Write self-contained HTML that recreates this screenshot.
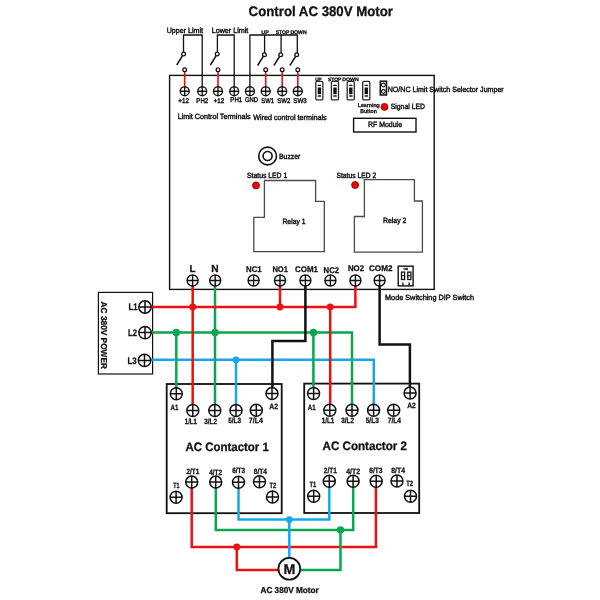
<!DOCTYPE html>
<html><head><meta charset="utf-8"><title>Control AC 380V Motor</title>
<style>
html,body{margin:0;padding:0;background:#fff;}
svg{display:block;font-family:"Liberation Sans",Arial,sans-serif;fill:#111;text-rendering:geometricPrecision;}
</style></head><body>
<svg width="600" height="600" viewBox="0 0 600 600" style="will-change:transform">
<text x="248.6" y="15.9" font-size="13.86" font-weight="bold" stroke="#111" stroke-width="0.28" textLength="144.4" lengthAdjust="spacingAndGlyphs">Control AC 380V Motor</text>
<rect x="169.6" y="75.4" width="264.6" height="214" fill="none" stroke="#111" stroke-width="1.4"/>
<path d="M183.5 52.5V35H202.2V87" fill="none" stroke="#111" stroke-width="1.3"/>
<path d="M234.2 87V35H217.4V52" fill="none" stroke="#111" stroke-width="1.3"/>
<path d="M249.9 87V35H297.3V53 M264.6 35V53 M281.1 35V53" fill="none" stroke="#111" stroke-width="1.3"/>
<path d="M182.70000000000002 55.4L176.8 65.0" fill="none" stroke="#111" stroke-width="1.5"/>
<circle cx="183.60000000000002" cy="54.0" r="1.85" fill="#fff" stroke="#111" stroke-width="1.3"/>
<path d="M184.7 71.5V87" stroke="#ee1010" stroke-width="1.6" fill="none"/>
<circle cx="184.7" cy="69.7" r="1.85" fill="#fff" stroke="#111" stroke-width="1.3"/>
<path d="M216.3 55.4L210.4 65.0" fill="none" stroke="#111" stroke-width="1.5"/>
<circle cx="217.20000000000002" cy="54.0" r="1.85" fill="#fff" stroke="#111" stroke-width="1.3"/>
<path d="M218.0 71.5V87" stroke="#ee1010" stroke-width="1.6" fill="none"/>
<circle cx="218.0" cy="69.7" r="1.85" fill="#fff" stroke="#111" stroke-width="1.3"/>
<path d="M263.5 56.199999999999996L257.6 65.48" fill="none" stroke="#111" stroke-width="1.5"/>
<circle cx="264.40000000000003" cy="54.8" r="1.85" fill="#fff" stroke="#111" stroke-width="1.3"/>
<path d="M265.7 71.5V87" stroke="#ee1010" stroke-width="1.6" fill="none"/>
<circle cx="265.7" cy="69.7" r="1.85" fill="#fff" stroke="#111" stroke-width="1.3"/>
<path d="M279.79999999999995 56.199999999999996L273.9 65.48" fill="none" stroke="#111" stroke-width="1.5"/>
<circle cx="280.7" cy="54.8" r="1.85" fill="#fff" stroke="#111" stroke-width="1.3"/>
<path d="M282.2 71.5V87" stroke="#ee1010" stroke-width="1.6" fill="none"/>
<circle cx="282.2" cy="69.7" r="1.85" fill="#fff" stroke="#111" stroke-width="1.3"/>
<path d="M295.79999999999995 56.199999999999996L289.9 65.48" fill="none" stroke="#111" stroke-width="1.5"/>
<circle cx="296.7" cy="54.8" r="1.85" fill="#fff" stroke="#111" stroke-width="1.3"/>
<path d="M297.8 71.5V87" stroke="#ee1010" stroke-width="1.6" fill="none"/>
<circle cx="297.8" cy="69.7" r="1.85" fill="#fff" stroke="#111" stroke-width="1.3"/>
<g stroke="#111" stroke-width="1.35" fill="#fff"><circle cx="184.7" cy="91.2" r="4.5"/><path d="M180.2 91.2H189.2M184.7 86.7V95.7" fill="none"/></g>
<g stroke="#111" stroke-width="1.35" fill="#fff"><circle cx="202.2" cy="91.2" r="4.5"/><path d="M197.7 91.2H206.7M202.2 86.7V95.7" fill="none"/></g>
<g stroke="#111" stroke-width="1.35" fill="#fff"><circle cx="218.0" cy="91.2" r="4.5"/><path d="M213.5 91.2H222.5M218.0 86.7V95.7" fill="none"/></g>
<g stroke="#111" stroke-width="1.35" fill="#fff"><circle cx="234.2" cy="91.2" r="4.5"/><path d="M229.7 91.2H238.7M234.2 86.7V95.7" fill="none"/></g>
<g stroke="#111" stroke-width="1.35" fill="#fff"><circle cx="249.9" cy="91.2" r="4.5"/><path d="M245.4 91.2H254.4M249.9 86.7V95.7" fill="none"/></g>
<g stroke="#111" stroke-width="1.35" fill="#fff"><circle cx="265.7" cy="91.2" r="4.5"/><path d="M261.2 91.2H270.2M265.7 86.7V95.7" fill="none"/></g>
<g stroke="#111" stroke-width="1.35" fill="#fff"><circle cx="282.2" cy="91.2" r="4.5"/><path d="M277.7 91.2H286.7M282.2 86.7V95.7" fill="none"/></g>
<g stroke="#111" stroke-width="1.35" fill="#fff"><circle cx="297.8" cy="91.2" r="4.5"/><path d="M293.3 91.2H302.3M297.8 86.7V95.7" fill="none"/></g>
<text x="178.3" y="103.3" font-size="6.93" font-weight="normal" stroke="#111" stroke-width="0.42" textLength="10.7" lengthAdjust="spacingAndGlyphs">+12</text>
<text x="196.3" y="103.3" font-size="6.93" font-weight="normal" stroke="#111" stroke-width="0.42" textLength="12.0" lengthAdjust="spacingAndGlyphs">PH2</text>
<text x="213.7" y="103.3" font-size="6.93" font-weight="normal" stroke="#111" stroke-width="0.42" textLength="10.6" lengthAdjust="spacingAndGlyphs">+12</text>
<text x="230.3" y="102.2" font-size="6.93" font-weight="normal" stroke="#111" stroke-width="0.42" textLength="12.0" lengthAdjust="spacingAndGlyphs">PH1</text>
<text x="244.9" y="102.4" font-size="6.93" font-weight="normal" stroke="#111" stroke-width="0.42" textLength="13.1" lengthAdjust="spacingAndGlyphs">GND</text>
<text x="261.3" y="103.3" font-size="6.93" font-weight="normal" stroke="#111" stroke-width="0.42" textLength="12.7" lengthAdjust="spacingAndGlyphs">SW1</text>
<text x="277.3" y="103.3" font-size="6.93" font-weight="normal" stroke="#111" stroke-width="0.42" textLength="13.1" lengthAdjust="spacingAndGlyphs">SW2</text>
<text x="293.3" y="103.3" font-size="6.93" font-weight="normal" stroke="#111" stroke-width="0.42" textLength="13.4" lengthAdjust="spacingAndGlyphs">SW3</text>
<text x="166.7" y="33" font-size="7.56" font-weight="normal" stroke="#111" stroke-width="0.42" textLength="36.3" lengthAdjust="spacingAndGlyphs">Upper Limit</text>
<text x="211.7" y="33" font-size="7.56" font-weight="normal" stroke="#111" stroke-width="0.42" textLength="36.6" lengthAdjust="spacingAndGlyphs">Lower Limit</text>
<text x="261.3" y="34.2" font-size="5.25" font-weight="bold" stroke="#111" stroke-width="0.28" textLength="7.4" lengthAdjust="spacingAndGlyphs">UP</text>
<text x="275.7" y="34.2" font-size="5.25" font-weight="bold" stroke="#111" stroke-width="0.28" textLength="13.6" lengthAdjust="spacingAndGlyphs">STOP</text>
<text x="290.4" y="34.2" font-size="5.25" font-weight="bold" stroke="#111" stroke-width="0.28" textLength="16.3" lengthAdjust="spacingAndGlyphs">DOWN</text>
<text x="177.7" y="118.9" font-size="7.67" font-weight="normal" stroke="#111" stroke-width="0.42" textLength="72.9" lengthAdjust="spacingAndGlyphs">Limit Control Terminals</text>
<text x="253.3" y="119.7" font-size="7.67" font-weight="normal" stroke="#111" stroke-width="0.42" textLength="73.4" lengthAdjust="spacingAndGlyphs">Wired control terminals</text>
<rect x="315.8" y="81.3" width="7.1" height="18.6" rx="1.2" fill="#fff" stroke="#2a2a2a" stroke-width="1.3"/>
<path d="M317.7 85.3H321.1M317.7 96H321.1" stroke="#1a1a1a" stroke-width="1.3"/>
<rect x="317.7" y="87.5" width="3.4" height="6.7" fill="#111"/>
<rect x="331.4" y="81.3" width="7.1" height="18.6" rx="1.2" fill="#fff" stroke="#2a2a2a" stroke-width="1.3"/>
<path d="M333.29999999999995 85.3H336.7M333.29999999999995 96H336.7" stroke="#1a1a1a" stroke-width="1.3"/>
<rect x="333.29999999999995" y="87.5" width="3.4" height="6.7" fill="#111"/>
<rect x="347.2" y="81.3" width="7.1" height="18.6" rx="1.2" fill="#fff" stroke="#2a2a2a" stroke-width="1.3"/>
<path d="M349.09999999999997 85.3H352.5M349.09999999999997 96H352.5" stroke="#1a1a1a" stroke-width="1.3"/>
<rect x="349.09999999999997" y="87.5" width="3.4" height="6.7" fill="#111"/>
<rect x="362.7" y="81.3" width="7.1" height="18.6" rx="1.2" fill="#fff" stroke="#2a2a2a" stroke-width="1.3"/>
<path d="M364.59999999999997 85.3H368.0M364.59999999999997 96H368.0" stroke="#1a1a1a" stroke-width="1.3"/>
<rect x="364.59999999999997" y="87.5" width="3.4" height="6.7" fill="#111"/>
<text x="315.3" y="80.7" font-size="4.83" font-weight="bold" stroke="#111" stroke-width="0.28" textLength="6.4" lengthAdjust="spacingAndGlyphs">UP</text>
<text x="328" y="80.7" font-size="4.83" font-weight="bold" stroke="#111" stroke-width="0.28" textLength="13.2" lengthAdjust="spacingAndGlyphs">STOP</text>
<text x="342.2" y="80.7" font-size="4.83" font-weight="bold" stroke="#111" stroke-width="0.28" textLength="16.6" lengthAdjust="spacingAndGlyphs">DOWN</text>
<rect x="380.3" y="81.2" width="6.2" height="13.8" fill="#fff" stroke="#111" stroke-width="1.5"/>
<circle cx="383.4" cy="85" r="1.9" fill="#fff" stroke="#111" stroke-width="1.1"/>
<circle cx="383.4" cy="91.5" r="1.9" fill="#fff" stroke="#111" stroke-width="1.1"/>
<text x="387.7" y="92" font-size="7.67" font-weight="normal" stroke="#111" stroke-width="0.42" textLength="116.0" lengthAdjust="spacingAndGlyphs">NO/NC Limit Switch Selector Jumper</text>
<text x="357.7" y="107.2" font-size="5.67" font-weight="bold" stroke="#111" stroke-width="0.28" textLength="22.1" lengthAdjust="spacingAndGlyphs">Learning</text>
<text x="360.2" y="113.2" font-size="5.67" font-weight="bold" stroke="#111" stroke-width="0.28" textLength="16.6" lengthAdjust="spacingAndGlyphs">Button</text>
<circle cx="384.5" cy="106.9" r="3.5" fill="#f00000" stroke="#7a0000" stroke-width="0.8"/>
<text x="390.7" y="109.2" font-size="7.67" font-weight="normal" stroke="#111" stroke-width="0.42" textLength="34.3" lengthAdjust="spacingAndGlyphs">Signal LED</text>
<rect x="353.6" y="118.3" width="62.4" height="13.7" fill="none" stroke="#111" stroke-width="1.4"/>
<text x="368" y="127.3" font-size="7.67" font-weight="normal" stroke="#111" stroke-width="0.42" textLength="34" lengthAdjust="spacingAndGlyphs">RF Module</text>
<circle cx="267.6" cy="156" r="8.9" fill="#fff" stroke="#111" stroke-width="1.6"/><circle cx="267.6" cy="156" r="4.5" fill="#fff" stroke="#111" stroke-width="1.6"/>
<text x="279" y="159.4" font-size="7.77" font-weight="normal" stroke="#111" stroke-width="0.42" textLength="21.4" lengthAdjust="spacingAndGlyphs">Buzzer</text>
<text x="247" y="177.5" font-size="7.67" font-weight="normal" stroke="#111" stroke-width="0.42" textLength="40.2" lengthAdjust="spacingAndGlyphs">Status LED 1</text>
<text x="336.4" y="177.5" font-size="7.67" font-weight="normal" stroke="#111" stroke-width="0.42" textLength="39.8" lengthAdjust="spacingAndGlyphs">Status LED 2</text>
<circle cx="256" cy="185.4" r="3.5" fill="#f00000" stroke="#7a0000" stroke-width="0.8"/>
<circle cx="355.1" cy="185" r="3.5" fill="#f00000" stroke="#7a0000" stroke-width="0.8"/>
<path d="M253.8 251.6V217.4H264.4V180.5H315.6V201.3H324.3V251.6Z" fill="none" stroke="#4a4a4a" stroke-width="1.3"/>
<path d="M354.4 252.2V216.5H364.4V179.7H414.4V201H422.4V252.2Z" fill="none" stroke="#4a4a4a" stroke-width="1.3"/>
<text x="282.4" y="224" font-size="7.67" font-weight="normal" stroke="#111" stroke-width="0.42" textLength="23.2" lengthAdjust="spacingAndGlyphs">Relay 1</text>
<text x="383" y="223" font-size="7.67" font-weight="normal" stroke="#111" stroke-width="0.42" textLength="23.4" lengthAdjust="spacingAndGlyphs">Relay 2</text>
<rect x="398.2" y="266.2" width="14.9" height="19.7" fill="#fff" stroke="#111" stroke-width="1.4"/>
<rect x="401.5" y="272.1" width="3.1" height="7.4" fill="#fff" stroke="#111" stroke-width="1.3"/>
<path d="M401.5 275.8H404.6" stroke="#111" stroke-width="1.1"/>
<rect x="407.8" y="272.1" width="3.1" height="7.4" fill="#fff" stroke="#111" stroke-width="1.3"/>
<path d="M407.8 275.8H410.90000000000003" stroke="#111" stroke-width="1.1"/>
<text x="405.7" y="270.3" font-size="3" font-weight="bold" text-anchor="middle" stroke="#111" stroke-width="0.28" >ON</text>
<text x="403" y="285" font-size="3.4" font-weight="bold" text-anchor="middle" stroke="#111" stroke-width="0.28" >1</text>
<text x="409.3" y="285" font-size="3.4" font-weight="bold" text-anchor="middle" stroke="#111" stroke-width="0.28" >2</text>
<text x="385" y="299.6" font-size="7.67" font-weight="normal" stroke="#111" stroke-width="0.42" textLength="89" lengthAdjust="spacingAndGlyphs">Mode Switching DIP Switch</text>
<rect x="98.4" y="292.4" width="54.2" height="81.6" fill="#fff" stroke="#111" stroke-width="1.2"/>
<text x="-33.7" y="0" font-size="8.6" font-weight="bold" stroke="#111" stroke-width="0.28" textLength="67.4" lengthAdjust="spacingAndGlyphs" transform="translate(101.1 335.3) rotate(90)">AC 380V POWER</text>
<rect x="166.7" y="384" width="115" height="129.2" fill="#fff" stroke="#111" stroke-width="1.8"/>
<rect x="304.2" y="383.6" width="115" height="129.4" fill="#fff" stroke="#111" stroke-width="1.8"/>
<path d="M150 359.8H373.8V406" fill="none" stroke="#16a6ee" stroke-width="2.5" stroke-linejoin="miter"/>
<path d="M236 359.8V406" fill="none" stroke="#16a6ee" stroke-width="2.5" stroke-linejoin="miter"/>
<circle cx="236" cy="359.8" r="3.4" fill="#16a6ee"/>
<path d="M151 332.4H352V406" fill="none" stroke="#08a64f" stroke-width="2.5" stroke-linejoin="miter"/>
<path d="M215 286V406" fill="none" stroke="#08a64f" stroke-width="2.5" stroke-linejoin="miter"/>
<path d="M176.3 332.4V390" fill="none" stroke="#08a64f" stroke-width="2.5" stroke-linejoin="miter"/>
<path d="M313.4 332.4V390" fill="none" stroke="#08a64f" stroke-width="2.5" stroke-linejoin="miter"/>
<circle cx="176.3" cy="332.4" r="3.7" fill="#08a64f"/>
<circle cx="215" cy="332.4" r="3.7" fill="#08a64f"/>
<circle cx="313.4" cy="332.4" r="3.7" fill="#08a64f"/>
<path d="M151 307H355.4V286" fill="none" stroke="#ee1010" stroke-width="2.5" stroke-linejoin="miter"/>
<path d="M192.7 286V406" fill="none" stroke="#ee1010" stroke-width="2.5" stroke-linejoin="miter"/>
<path d="M280 286V307" fill="none" stroke="#ee1010" stroke-width="2.5" stroke-linejoin="miter"/>
<path d="M330.2 307V406" fill="none" stroke="#ee1010" stroke-width="2.5" stroke-linejoin="miter"/>
<circle cx="192.7" cy="307" r="3.4" fill="#ee1010"/>
<circle cx="280" cy="307" r="3.4" fill="#ee1010"/>
<circle cx="330.2" cy="307" r="3.4" fill="#ee1010"/>
<path d="M305.4 286V341H272.4V389" fill="none" stroke="#111" stroke-width="2.5" stroke-linejoin="miter"/>
<path d="M379.6 286V344.4H409.9V389" fill="none" stroke="#111" stroke-width="2.5" stroke-linejoin="miter"/>
<path d="M191.7 486V547H375.9V486" fill="none" stroke="#ee1010" stroke-width="2.5" stroke-linejoin="miter"/>
<path d="M236.8 547V570H278" fill="none" stroke="#ee1010" stroke-width="2.5" stroke-linejoin="miter"/>
<circle cx="236.8" cy="547" r="3.4" fill="#ee1010"/>
<path d="M215.8 486V530H353.2V486" fill="none" stroke="#08a64f" stroke-width="2.5" stroke-linejoin="miter"/>
<path d="M340.5 530V570H300" fill="none" stroke="#08a64f" stroke-width="2.5" stroke-linejoin="miter"/>
<circle cx="340.5" cy="530" r="3.7" fill="#08a64f"/>
<path d="M238.5 486V519.6H329.3V486" fill="none" stroke="#16a6ee" stroke-width="2.5" stroke-linejoin="miter"/>
<path d="M289.3 519.6V558" fill="none" stroke="#16a6ee" stroke-width="2.5" stroke-linejoin="miter"/>
<circle cx="289.3" cy="519.6" r="3.4" fill="#16a6ee"/>
<g stroke="#111" stroke-width="1.4" fill="#fff"><circle cx="192.6" cy="280.5" r="5.5"/><path d="M187.1 280.5H198.1M192.6 275.0V286.0" fill="none"/></g>
<g stroke="#111" stroke-width="1.4" fill="#fff"><circle cx="215.2" cy="280.5" r="5.5"/><path d="M209.7 280.5H220.7M215.2 275.0V286.0" fill="none"/></g>
<g stroke="#111" stroke-width="1.4" fill="#fff"><circle cx="253.6" cy="280.5" r="5.5"/><path d="M248.1 280.5H259.1M253.6 275.0V286.0" fill="none"/></g>
<g stroke="#111" stroke-width="1.4" fill="#fff"><circle cx="280" cy="280.5" r="5.5"/><path d="M274.5 280.5H285.5M280 275.0V286.0" fill="none"/></g>
<g stroke="#111" stroke-width="1.4" fill="#fff"><circle cx="305.4" cy="280.5" r="5.5"/><path d="M299.9 280.5H310.9M305.4 275.0V286.0" fill="none"/></g>
<g stroke="#111" stroke-width="1.4" fill="#fff"><circle cx="330.4" cy="280.5" r="5.5"/><path d="M324.9 280.5H335.9M330.4 275.0V286.0" fill="none"/></g>
<g stroke="#111" stroke-width="1.4" fill="#fff"><circle cx="355.4" cy="280.5" r="5.5"/><path d="M349.9 280.5H360.9M355.4 275.0V286.0" fill="none"/></g>
<g stroke="#111" stroke-width="1.4" fill="#fff"><circle cx="379.6" cy="280.5" r="5.5"/><path d="M374.1 280.5H385.1M379.6 275.0V286.0" fill="none"/></g>
<text x="192.6" y="272.4" font-size="10" font-weight="bold" text-anchor="middle" stroke="#111" stroke-width="0.28" >L</text>
<text x="214.9" y="271.8" font-size="10.2" font-weight="bold" text-anchor="middle" stroke="#111" stroke-width="0.28" >N</text>
<text x="246" y="271.6" font-size="8.29" font-weight="bold" stroke="#111" stroke-width="0.28" textLength="15.6" lengthAdjust="spacingAndGlyphs">NC1</text>
<text x="272.4" y="271.6" font-size="8.29" font-weight="bold" stroke="#111" stroke-width="0.28" textLength="15.6" lengthAdjust="spacingAndGlyphs">NO1</text>
<text x="295" y="271.6" font-size="8.29" font-weight="bold" stroke="#111" stroke-width="0.28" textLength="23" lengthAdjust="spacingAndGlyphs">COM1</text>
<text x="323.6" y="272.6" font-size="8.29" font-weight="bold" stroke="#111" stroke-width="0.28" textLength="15.4" lengthAdjust="spacingAndGlyphs">NC2</text>
<text x="348" y="271.4" font-size="8.29" font-weight="bold" stroke="#111" stroke-width="0.28" textLength="16" lengthAdjust="spacingAndGlyphs">NO2</text>
<text x="369" y="270.6" font-size="8.29" font-weight="bold" stroke="#111" stroke-width="0.28" textLength="23.4" lengthAdjust="spacingAndGlyphs">COM2</text>
<g stroke="#111" stroke-width="1.5" fill="#fff"><circle cx="145" cy="307" r="6.2"/><path d="M138.8 307H151.2M145 300.8V313.2" fill="none"/></g>
<g stroke="#111" stroke-width="1.5" fill="#fff"><circle cx="145" cy="332.6" r="6.2"/><path d="M138.8 332.6H151.2M145 326.40000000000003V338.8" fill="none"/></g>
<g stroke="#111" stroke-width="1.5" fill="#fff"><circle cx="144.5" cy="360.4" r="6.2"/><path d="M138.3 360.4H150.7M144.5 354.2V366.59999999999997" fill="none"/></g>
<text x="128.6" y="310.4" font-size="9.45" font-weight="bold" stroke="#111" stroke-width="0.28" textLength="9.0" lengthAdjust="spacingAndGlyphs">L1</text>
<text x="128" y="335.8" font-size="9.45" font-weight="bold" stroke="#111" stroke-width="0.28" textLength="9" lengthAdjust="spacingAndGlyphs">L2</text>
<text x="127.4" y="363.8" font-size="9.45" font-weight="bold" stroke="#111" stroke-width="0.28" textLength="9.2" lengthAdjust="spacingAndGlyphs">L3</text>
<g stroke="#111" stroke-width="1.5" fill="#fff"><circle cx="176.3" cy="393.8" r="6.0"/><path d="M170.3 393.8H182.3M176.3 387.8V399.8" fill="none"/></g>
<g stroke="#111" stroke-width="1.5" fill="#fff"><circle cx="272" cy="393.6" r="6.0"/><path d="M266.0 393.6H278.0M272 387.6V399.6" fill="none"/></g>
<g stroke="#111" stroke-width="1.5" fill="#fff"><circle cx="192.8" cy="410.5" r="6.0"/><path d="M186.8 410.5H198.8M192.8 404.5V416.5" fill="none"/></g>
<g stroke="#111" stroke-width="1.5" fill="#fff"><circle cx="214.8" cy="410.5" r="6.0"/><path d="M208.8 410.5H220.8M214.8 404.5V416.5" fill="none"/></g>
<g stroke="#111" stroke-width="1.5" fill="#fff"><circle cx="236" cy="410.5" r="6.0"/><path d="M230.0 410.5H242.0M236 404.5V416.5" fill="none"/></g>
<g stroke="#111" stroke-width="1.5" fill="#fff"><circle cx="256.3" cy="410.3" r="6.0"/><path d="M250.3 410.3H262.3M256.3 404.3V416.3" fill="none"/></g>
<g stroke="#111" stroke-width="1.5" fill="#fff"><circle cx="191.7" cy="482.1" r="6.0"/><path d="M185.7 482.1H197.7M191.7 476.1V488.1" fill="none"/></g>
<g stroke="#111" stroke-width="1.5" fill="#fff"><circle cx="215.7" cy="482.1" r="6.0"/><path d="M209.7 482.1H221.7M215.7 476.1V488.1" fill="none"/></g>
<g stroke="#111" stroke-width="1.5" fill="#fff"><circle cx="238.5" cy="482.3" r="6.0"/><path d="M232.5 482.3H244.5M238.5 476.3V488.3" fill="none"/></g>
<g stroke="#111" stroke-width="1.5" fill="#fff"><circle cx="259.5" cy="481.8" r="6.0"/><path d="M253.5 481.8H265.5M259.5 475.8V487.8" fill="none"/></g>
<g stroke="#111" stroke-width="1.5" fill="#fff"><circle cx="176.1" cy="497.2" r="6.0"/><path d="M170.1 497.2H182.1M176.1 491.2V503.2" fill="none"/></g>
<g stroke="#111" stroke-width="1.5" fill="#fff"><circle cx="272.5" cy="497" r="6.0"/><path d="M266.5 497H278.5M272.5 491.0V503.0" fill="none"/></g>
<text x="170.5" y="409.8" font-size="7.67" font-weight="bold" stroke="#111" stroke-width="0.28" textLength="7.8" lengthAdjust="spacingAndGlyphs">A1</text>
<text x="269.3" y="409.2" font-size="7.67" font-weight="bold" stroke="#111" stroke-width="0.28" textLength="8.7" lengthAdjust="spacingAndGlyphs">A2</text>
<text x="184.8" y="423.7" font-size="7.67" font-weight="bold" stroke="#111" stroke-width="0.28" textLength="12.0" lengthAdjust="spacingAndGlyphs">1/L1</text>
<text x="204.2" y="423.7" font-size="7.67" font-weight="bold" stroke="#111" stroke-width="0.28" textLength="12.8" lengthAdjust="spacingAndGlyphs">3/L2</text>
<text x="228.2" y="423" font-size="7.67" font-weight="bold" stroke="#111" stroke-width="0.28" textLength="12.8" lengthAdjust="spacingAndGlyphs">5/L3</text>
<text x="248.8" y="423" font-size="7.67" font-weight="bold" stroke="#111" stroke-width="0.28" textLength="14.0" lengthAdjust="spacingAndGlyphs">7/L4</text>
<text x="186.4" y="473.8" font-size="7.67" font-weight="bold" stroke="#111" stroke-width="0.28" textLength="12.8" lengthAdjust="spacingAndGlyphs">2/T1</text>
<text x="209.2" y="474.7" font-size="7.67" font-weight="bold" stroke="#111" stroke-width="0.28" textLength="12.8" lengthAdjust="spacingAndGlyphs">4/T2</text>
<text x="232.2" y="473.2" font-size="7.67" font-weight="bold" stroke="#111" stroke-width="0.28" textLength="13.0" lengthAdjust="spacingAndGlyphs">6/T3</text>
<text x="253.8" y="473.7" font-size="7.67" font-weight="bold" stroke="#111" stroke-width="0.28" textLength="13.2" lengthAdjust="spacingAndGlyphs">8/T4</text>
<text x="173.2" y="487.7" font-size="7.67" font-weight="bold" stroke="#111" stroke-width="0.28" textLength="6.1" lengthAdjust="spacingAndGlyphs">T1</text>
<text x="269.5" y="487.5" font-size="7.67" font-weight="bold" stroke="#111" stroke-width="0.28" textLength="6.8" lengthAdjust="spacingAndGlyphs">T2</text>
<text x="185.5" y="450.5" font-size="12.18" font-weight="bold" stroke="#111" stroke-width="0.28" textLength="83.3" lengthAdjust="spacingAndGlyphs">AC Contactor 1</text>
<g stroke="#111" stroke-width="1.5" fill="#fff"><circle cx="313.6" cy="393.5" r="6.0"/><path d="M307.6 393.5H319.6M313.6 387.5V399.5" fill="none"/></g>
<g stroke="#111" stroke-width="1.5" fill="#fff"><circle cx="410.1" cy="393.1" r="6.0"/><path d="M404.1 393.1H416.1M410.1 387.1V399.1" fill="none"/></g>
<g stroke="#111" stroke-width="1.5" fill="#fff"><circle cx="329.8" cy="410.3" r="6.0"/><path d="M323.8 410.3H335.8M329.8 404.3V416.3" fill="none"/></g>
<g stroke="#111" stroke-width="1.5" fill="#fff"><circle cx="352" cy="410.3" r="6.0"/><path d="M346.0 410.3H358.0M352 404.3V416.3" fill="none"/></g>
<g stroke="#111" stroke-width="1.5" fill="#fff"><circle cx="373.6" cy="410.2" r="6.0"/><path d="M367.6 410.2H379.6M373.6 404.2V416.2" fill="none"/></g>
<g stroke="#111" stroke-width="1.5" fill="#fff"><circle cx="393.7" cy="410.2" r="6.0"/><path d="M387.7 410.2H399.7M393.7 404.2V416.2" fill="none"/></g>
<g stroke="#111" stroke-width="1.5" fill="#fff"><circle cx="329.3" cy="481.3" r="6.0"/><path d="M323.3 481.3H335.3M329.3 475.3V487.3" fill="none"/></g>
<g stroke="#111" stroke-width="1.5" fill="#fff"><circle cx="353.1" cy="481.3" r="6.0"/><path d="M347.1 481.3H359.1M353.1 475.3V487.3" fill="none"/></g>
<g stroke="#111" stroke-width="1.5" fill="#fff"><circle cx="376.2" cy="481.3" r="6.0"/><path d="M370.2 481.3H382.2M376.2 475.3V487.3" fill="none"/></g>
<g stroke="#111" stroke-width="1.5" fill="#fff"><circle cx="397" cy="481" r="6.0"/><path d="M391.0 481H403.0M397 475.0V487.0" fill="none"/></g>
<g stroke="#111" stroke-width="1.5" fill="#fff"><circle cx="313.7" cy="496.3" r="6.0"/><path d="M307.7 496.3H319.7M313.7 490.3V502.3" fill="none"/></g>
<g stroke="#111" stroke-width="1.5" fill="#fff"><circle cx="410.5" cy="496.3" r="6.0"/><path d="M404.5 496.3H416.5M410.5 490.3V502.3" fill="none"/></g>
<text x="307.7" y="409.7" font-size="7.67" font-weight="bold" stroke="#111" stroke-width="0.28" textLength="7.9" lengthAdjust="spacingAndGlyphs">A1</text>
<text x="407.2" y="408" font-size="7.67" font-weight="bold" stroke="#111" stroke-width="0.28" textLength="8.6" lengthAdjust="spacingAndGlyphs">A2</text>
<text x="321.7" y="423.3" font-size="7.67" font-weight="bold" stroke="#111" stroke-width="0.28" textLength="12.5" lengthAdjust="spacingAndGlyphs">1/L1</text>
<text x="341.2" y="423.3" font-size="7.67" font-weight="bold" stroke="#111" stroke-width="0.28" textLength="12.8" lengthAdjust="spacingAndGlyphs">3/L2</text>
<text x="365.7" y="423" font-size="7.67" font-weight="bold" stroke="#111" stroke-width="0.28" textLength="13.1" lengthAdjust="spacingAndGlyphs">5/L3</text>
<text x="387.7" y="423" font-size="7.67" font-weight="bold" stroke="#111" stroke-width="0.28" textLength="13.3" lengthAdjust="spacingAndGlyphs">7/L4</text>
<text x="323.8" y="473.2" font-size="7.67" font-weight="bold" stroke="#111" stroke-width="0.28" textLength="13.2" lengthAdjust="spacingAndGlyphs">2/T1</text>
<text x="346.2" y="474" font-size="7.67" font-weight="bold" stroke="#111" stroke-width="0.28" textLength="13.8" lengthAdjust="spacingAndGlyphs">4/T2</text>
<text x="369.2" y="473" font-size="7.67" font-weight="bold" stroke="#111" stroke-width="0.28" textLength="13.3" lengthAdjust="spacingAndGlyphs">6/T3</text>
<text x="391.2" y="473" font-size="7.67" font-weight="bold" stroke="#111" stroke-width="0.28" textLength="13.8" lengthAdjust="spacingAndGlyphs">8/T4</text>
<text x="309.5" y="487" font-size="7.67" font-weight="bold" stroke="#111" stroke-width="0.28" textLength="6.8" lengthAdjust="spacingAndGlyphs">T1</text>
<text x="406.2" y="486.3" font-size="7.67" font-weight="bold" stroke="#111" stroke-width="0.28" textLength="6.8" lengthAdjust="spacingAndGlyphs">T2</text>
<text x="322.5" y="450" font-size="12.18" font-weight="bold" stroke="#111" stroke-width="0.28" textLength="84.5" lengthAdjust="spacingAndGlyphs">AC Contactor 2</text>
<circle cx="289.3" cy="568.8" r="10.9" fill="#fff" stroke="#111" stroke-width="1.8"/>
<text x="289.3" y="573.8" font-size="14.2" font-weight="bold" text-anchor="middle" stroke="#111" stroke-width="0.28" >M</text>
<text x="260.5" y="592.7" font-size="8.61" font-weight="bold" stroke="#111" stroke-width="0.28" textLength="58.3" lengthAdjust="spacingAndGlyphs">AC 380V Motor</text>
</svg></body></html>
